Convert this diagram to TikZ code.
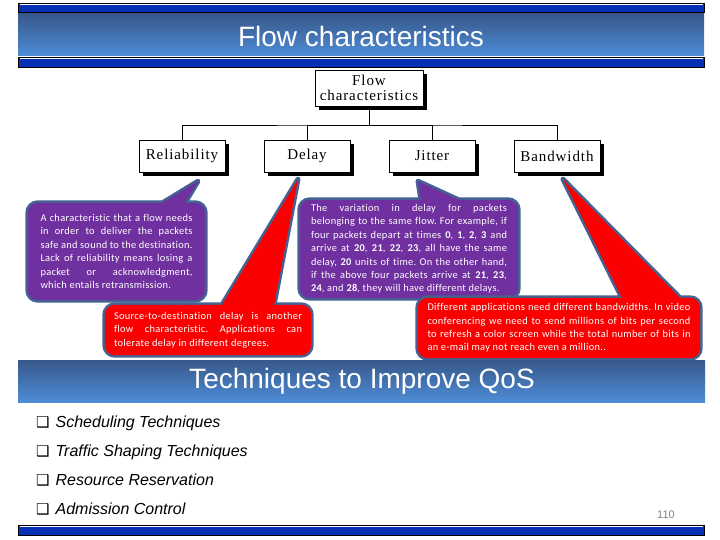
\documentclass[tikz,border=0pt]{standalone}
\usepackage{fontspec}
\usepackage{tikz}
\usetikzlibrary{positioning, calc, backgrounds, shadows}
\setmainfont{Liberation Sans}
\newfontfamily\treefont[LetterSpace=6]{Liberation Serif}
\newfontfamily\notefont[LetterSpace=3, Ligatures=NoCommon]{Carlito}
\newfontfamily\glyphfont{DejaVu Sans}
\definecolor{barblue}{RGB}{6,48,180}
\definecolor{bandtop}{RGB}{55,88,138}
\definecolor{bandbottom}{RGB}{78,140,215}
\definecolor{notepurple}{RGB}{112,48,160}
\definecolor{notered}{RGB}{250,0,0}
\definecolor{noteedge}{RGB}{68,98,146}
\tikzstyle{bar} = [draw=black, fill=barblue, line width=0.8pt]
\tikzstyle{band} = [top color=bandtop, bottom color=bandbottom]
\tikzstyle{title} = [text=white, font=\fontsize{28}{30}\selectfont]
\tikzstyle{tbox} = [rectangle, draw=black, fill=white, minimum width=86pt, minimum height=32pt, align=center, font=\treefont\fontsize{15}{14.5}\selectfont, drop shadow={shadow xshift=4pt, shadow yshift=-4pt, fill=black, opacity=1}]
\tikzstyle{note} = [rectangle, align=justify, text=white, font=\notefont\fontsize{10.4}{13.4}\selectfont\frenchspacing]
\tikzstyle{purplenote} = [fill=notepurple, preaction={draw=noteedge, line width=5pt, line join=round}]
\tikzstyle{rednote} = [fill=notered, preaction={draw=noteedge, line width=5pt, line join=round}]
\tikzstyle{item} = [anchor=west, font=\fontsize{16}{18}\selectfont\itshape]

\begin{document}
\begin{tikzpicture}[x=1pt, y=-1pt, every node/.style={inner sep=0pt}]
  \useasboundingbox (0,0) rectangle (720,540);
  \filldraw[bar] (18,3) rectangle (704,12);
  \draw[white, line width=0.7pt] (19.5,4.5) -- (702.5,4.5);
  \fill[band] (18,14) rectangle (704,56);
  \filldraw[bar] (18,57) rectangle (704,67);
  \draw[white, line width=0.7pt] (19.5,58.5) -- (702.5,58.5);
  \fill[band] (18,360) rectangle (705,402);
  \filldraw[bar] (18,525) rectangle (704,535);
  \draw[white, line width=0.7pt] (19.5,526.5) -- (702.5,526.5);
  \node[title] (flowtitle) at (361,36) {Flow characteristics};
  \node[title] (qostitle) at (362,381) {Techniques to Improve QoS};

  \node[tbox, minimum width=108pt, minimum height=36pt] (root) at (369,88) {Flow\\characteristics};
  \node[tbox] (rel) at (182,156) {Reliability};
  \node[tbox] (delay) at (307,156) {Delay};
  \node[tbox] (jit) at (432,156) {Jitter};
  \node[tbox] (bw) at (557,156) {Bandwidth};
  \coordinate (hub) at (369,125);
  \draw (root) -- (hub);
  \draw (rel) |- (hub) -| (bw);
  \draw (delay) |- (hub);
  \draw (jit) |- (hub);

  \node[note, text width=152pt, minimum width=177pt, minimum height=97pt] (relnote) at (116.5,251.5) {A characteristic that a flow needs\linebreak in order to deliver the packets\linebreak safe and sound to the destination.\linebreak Lack of reliability means losing a\linebreak packet or acknowledgment,\linebreak which entails retransmission.};
  \node[note, text width=196pt, minimum width=218pt, minimum height=98pt] (jitnote) at (409,249) {The variation in delay for packets\linebreak belonging to the same flow. For example, if\linebreak four packets depart at times \textbf{0}, \textbf{1}, \textbf{2}, \textbf{3} and\linebreak arrive at \textbf{20}, \textbf{21}, \textbf{22}, \textbf{23}, all have the same\linebreak delay, \textbf{20} units of time. On the other hand,\linebreak if the above four packets arrive at \textbf{21}, \textbf{23},\linebreak \textbf{24}, and \textbf{28}, they will have different delays.};
  \node[note, text width=188pt, minimum width=206pt, minimum height=50pt] (delaynote) at (208,330) {Source-to-destination delay is another\linebreak flow characteristic. Applications can\linebreak tolerate delay in different degrees.};
  \node[note, text width=263pt, minimum width=282pt, minimum height=60pt] (bwnote) at (559,328) {Different applications need different bandwidths. In video\linebreak conferencing we need to send millions of bits per second\linebreak to refresh a color screen while the total number of bits in\linebreak an e-mail may not reach even a million..};

  \begin{scope}[on background layer]
    \path[purplenote] (relnote.north west) [rounded corners=10pt] rectangle (relnote.south east) [sharp corners]
      ($(rel.south)+(16,9)$) -- ($(relnote.north west)+(115,12)$) -- ($(relnote.north west)+(150,12)$) -- cycle;
    \path[purplenote] (jitnote.north west) [rounded corners=10pt] rectangle (jitnote.south east) [sharp corners]
      ($(jit.south)+(-14,9)$) -- ($(jitnote.north west)+(123,12)$) -- ($(jitnote.north west)+(185,12)$) -- cycle;
    \path[rednote] (delaynote.north west) [rounded corners=10pt] rectangle (delaynote.south east) [sharp corners]
      ($(delay.south)+(-9,7)$) -- ($(delaynote.north west)+(110,12)$) -- ($(delaynote.north west)+(167,12)$) -- cycle;
    \path[rednote] (bwnote.north west) [rounded corners=10pt] rectangle (bwnote.south east) [sharp corners]
      ($(bw.south)+(6,7)$) -- ($(bwnote.north west)+(210,12)$) -- ($(bwnote.north west)+(274,12)$) -- cycle;
  \end{scope}

  \node[item] (sched) at (36,423) {{\glyphfont\upshape\fontsize{15}{15}\selectfont ❑}\hspace{6pt}Scheduling Techniques};
  \node[item] (shaping) at (36,452) {{\glyphfont\upshape\fontsize{15}{15}\selectfont ❑}\hspace{6pt}Traffic Shaping Techniques};
  \node[item] (resv) at (36,480) {{\glyphfont\upshape\fontsize{15}{15}\selectfont ❑}\hspace{6pt}Resource Reservation};
  \node[item] (admit) at (36,509) {{\glyphfont\upshape\fontsize{15}{15}\selectfont ❑}\hspace{6pt}Admission Control};
  \node[text=gray, font=\fontsize{11}{12}\selectfont] (pagenum) at (666,515) {110};
\end{tikzpicture}
\end{document}
